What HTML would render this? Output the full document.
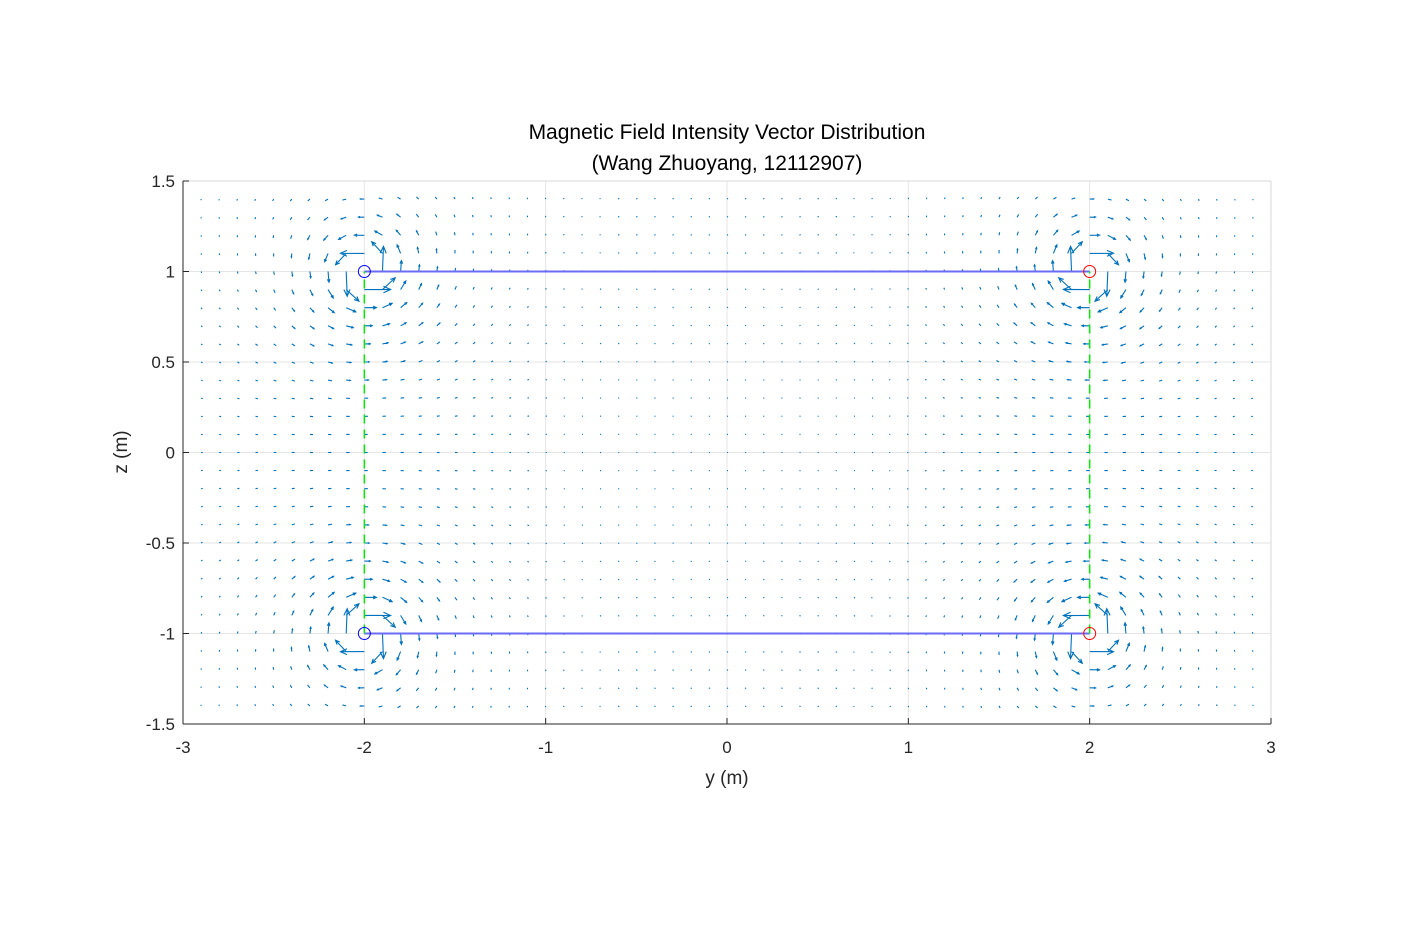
<!DOCTYPE html>
<html>
<head>
<meta charset="utf-8">
<style>
  html,body{margin:0;padding:0;background:#fff;}
  svg{display:block;}
  text{font-family:"Liberation Sans",Arial,sans-serif;fill:#262626;}
</style>
</head>
<body>
<svg id="chart" width="1406" height="938" viewBox="0 0 1406 938">
  <rect x="0" y="0" width="1406" height="938" fill="#fff"/>
  <rect x="183" y="181" width="1088" height="543" fill="#fff"/>
  <g id="grid"></g>
  <g id="quiver"></g>
  <g id="loop"></g>
  <g id="axes"></g>
  <text x="727" y="139" font-size="21" text-anchor="middle" fill="#000" style="fill:#000">Magnetic Field Intensity Vector Distribution</text>
  <text x="727" y="170" font-size="21" text-anchor="middle" style="fill:#000">(Wang Zhuoyang, 12112907)</text>
  <text x="727" y="784" font-size="19" text-anchor="middle">y (m)</text>
  <text x="127" y="452" font-size="19" text-anchor="middle" transform="rotate(-90 127 452)">z (m)</text>
</svg>
<script>
// ---- data ----
const xTicks = [-3, -2, -1, 0, 1, 2, 3];
const yTicks = [1.5, 1, 0.5, 0, -0.5, -1, -1.5];
const yTickLabels = ["1.5", "1", "0.5", "0", "-0.5", "-1", "-1.5"];
const wireY = [-2, 2, -2, 2];
const wireZ = [1, 1, -1, -1];
const wireI = [1, -1, -1, 1];
const wireColor = ["#0000ff", "#ff0000", "#0000ff", "#ff0000"];
const segHY = [-2, 2];
const segHZ = [1, -1];
const segVY = [-2, 2];
const segVZ = [-1, 1];
const gridYMin = -2.9, gridYMax = 2.9, gridZMin = -1.4, gridZMax = 1.4, gridStep = 0.1;

// ---- axis functions ----
const X0 = 183, X1 = 1271, Y0 = 724, Y1 = 181;
const xMin = -3, xMax = 3, yMin = -1.5, yMax = 1.5;
const sx = v => X0 + (v - xMin) / (xMax - xMin) * (X1 - X0);
const sy = v => Y0 - (v - yMin) / (yMax - yMin) * (Y0 - Y1);
const NS = "http://www.w3.org/2000/svg";
function mk(tag, attrs, parent) {
  const e = document.createElementNS(NS, tag);
  for (const k in attrs) e.setAttribute(k, attrs[k]);
  parent.appendChild(e);
  return e;
}

// grid
const gG = document.getElementById('grid');
xTicks.forEach(t => {
  const l = mk('line', {x1: sx(t), x2: sx(t), y1: Y1, y2: Y0, stroke: '#e5e5e5', 'stroke-width': 1}, gG);
  
  
});
yTicks.forEach(t => {
  const l = mk('line', {x1: X0, x2: X1, y1: sy(t), y2: sy(t), stroke: '#e5e5e5', 'stroke-width': 1}, gG);
  
  
});

// quiver
const gQ = document.getElementById('quiver');
const lenK = 1.58, lenP = 1.2; // pixel length = lenK * |B|^lenP
const nY = Math.round((gridYMax - gridYMin) / gridStep);
const nZ = Math.round((gridZMax - gridZMin) / gridStep);
for (let i = 0; i <= nY; i++) {
  for (let j = 0; j <= nZ; j++) {
    const y = gridYMin + i * gridStep, z = gridZMin + j * gridStep;
    let by = 0, bz = 0, sing = false;
    for (let k = 0; k < wireY.length; k++) {
      const dy = y - wireY[k], dz = z - wireZ[k];
      const r2 = dy * dy + dz * dz;
      if (r2 < 1e-6) { sing = true; break; }
      by += wireI[k] * (-dz) / r2;
      bz += wireI[k] * dy / r2;
    }
    if (sing) continue;
    const mag = Math.hypot(by, bz);
    const px = sx(y), py = sy(z);
    let ex = px, ey = py;
    if (mag > 0) {
      const L = lenK * Math.pow(mag, lenP);
      ex = px + by / mag * L; ey = py - bz / mag * L;
    }
    const len = Math.hypot(ex - px, ey - py);
    let d = `M${px.toFixed(2)},${py.toFixed(2)}L${(len < 1 ? px + 1 : ex).toFixed(2)},${ey.toFixed(2)}`;
    if (len > 4) {
      const ang = Math.atan2(ey - py, ex - px);
      const h = len * 0.3, a = 0.42;
      d += `M${(ex - h * Math.cos(ang - a)).toFixed(2)},${(ey - h * Math.sin(ang - a)).toFixed(2)}L${ex.toFixed(2)},${ey.toFixed(2)}L${(ex - h * Math.cos(ang + a)).toFixed(2)},${(ey - h * Math.sin(ang + a)).toFixed(2)}`;
    }
    const p = mk('path', {d: d, stroke: '#0072bd', 'stroke-width': 1.1, fill: 'none'}, gQ);
    
    
  }
}

// loop
const gL = document.getElementById('loop');
segHZ.forEach(z => {
  const l = mk('line', {x1: sx(segHY[0]), x2: sx(segHY[1]), y1: sy(z), y2: sy(z), stroke: '#6b6bf5', 'stroke-width': 2}, gL);
  
  
});
segVY.forEach(y => {
  const l = mk('line', {x1: sx(y), x2: sx(y), y1: sy(segVZ[0]), y2: sy(segVZ[1]), stroke: '#00ee00', 'stroke-width': 1.5, 'stroke-dasharray': '9,6'}, gL);
  
  
});
wireY.forEach((y, k) => {
  const c = mk('circle', {cx: sx(y), cy: sy(wireZ[k]), r: 6, fill: 'none', stroke: wireColor[k], 'stroke-width': 1}, gL);
  
  
});

// axes
const gA = document.getElementById('axes');
mk('line', {x1: X0, x2: X1, y1: Y1, y2: Y1, stroke: '#d9d9d9', 'stroke-width': 1}, gA);
mk('line', {x1: X1, x2: X1, y1: Y1, y2: Y0, stroke: '#d9d9d9', 'stroke-width': 1}, gA);
const xa = mk('line', {x1: X0, x2: X1, y1: Y0, y2: Y0, stroke: '#262626', 'stroke-width': 1}, gA);


const ya = mk('line', {x1: X0, x2: X0, y1: Y1, y2: Y0, stroke: '#262626', 'stroke-width': 1}, gA);


xTicks.forEach(t => {
  mk('line', {x1: sx(t), x2: sx(t), y1: Y0, y2: Y0 - 6, stroke: '#262626', 'stroke-width': 1}, gA);
  const tx = mk('text', {x: sx(t), y: Y0 + 29, 'font-size': 17, 'text-anchor': 'middle'}, gA);
  tx.textContent = String(t);
  
  
});
yTicks.forEach((t, i) => {
  mk('line', {x1: X0, x2: X0 + 6, y1: sy(t), y2: sy(t), stroke: '#262626', 'stroke-width': 1}, gA);
  const tx = mk('text', {x: X0 - 8, y: sy(t) + 6, 'font-size': 17, 'text-anchor': 'end'}, gA);
  tx.textContent = yTickLabels[i];
  
  
});
</script>
</body>
</html>
